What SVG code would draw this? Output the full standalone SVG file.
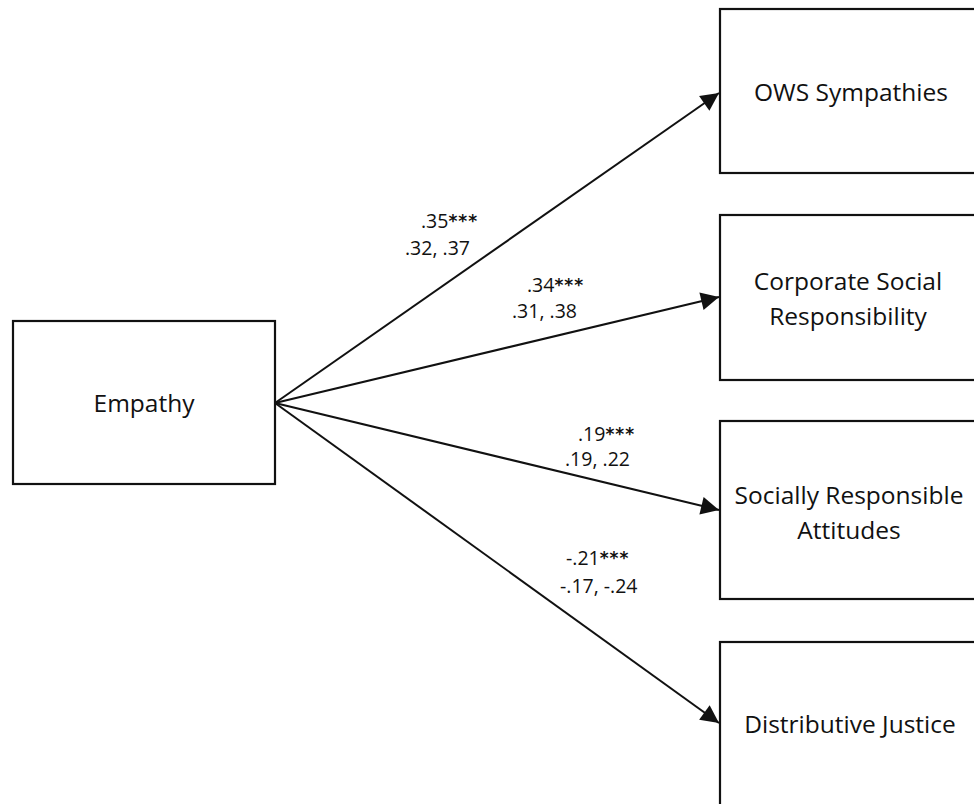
<svg xmlns="http://www.w3.org/2000/svg" width="974" height="804" viewBox="0 0 974 804">
<style>
.box{fill:#fff;stroke:#111;stroke-width:2.2}
.t{font-family:"Open Sans","Noto Sans",sans-serif;font-size:24.5px;fill:#111;text-anchor:middle}
.n{font-family:"Open Sans","Noto Sans",sans-serif;font-size:19.5px;fill:#111}
.s{font-family:"DejaVu Sans",sans-serif;font-size:17px;font-weight:bold;fill:#111;letter-spacing:1px}
.c{stroke:#111;stroke-width:2;fill:none;marker-end:url(#ah)}
</style>
<defs>
<marker id="ah" viewBox="0 0 10 10" refX="10" refY="5" markerWidth="9" markerHeight="9" markerUnits="userSpaceOnUse" orient="auto" overflow="visible">
<path d="M0,0 L10,5 L0,10 z" fill="#111" transform="scale(2) translate(-5,-2.5)"/>
</marker>
</defs>
<rect width="974" height="804" fill="#fff"/>
<g id="connectors">
<line class="c" x1="275" y1="403" x2="719" y2="93"/>
<line class="c" x1="275" y1="403" x2="719" y2="297"/>
<line class="c" x1="275" y1="403" x2="719" y2="510"/>
<line class="c" x1="275" y1="403" x2="719" y2="723"/>
</g>
<g id="labels">
<text class="n" x="421" y="228">.35<tspan class="s" dy="-1">***</tspan></text>
<text class="n" x="405" y="255">.32, .37</text>
<text class="n" x="527" y="292">.34<tspan class="s" dy="-1">***</tspan></text>
<text class="n" x="512" y="318">.31, .38</text>
<text class="n" x="578" y="441">.19<tspan class="s" dy="-1">***</tspan></text>
<text class="n" x="565" y="466">.19, .22</text>
<text class="n" x="566" y="565">-.21<tspan class="s" dy="-1">***</tspan></text>
<text class="n" x="560" y="593">-.17, -.24</text>
</g>
<g id="empathy">
<rect class="box" x="13" y="321" width="262" height="163"/>
<text class="t" x="144" y="412">Empathy</text>
</g>
<g id="ows">
<rect class="box" x="720" y="9" width="270" height="164"/>
<text class="t" x="851" y="101">OWS Sympathies</text>
</g>
<g id="csr">
<rect class="box" x="720" y="215" width="270" height="165"/>
<text class="t" x="848" y="290">Corporate Social</text>
<text class="t" x="848" y="325">Responsibility</text>
</g>
<g id="sra">
<rect class="box" x="720" y="421" width="270" height="178"/>
<text class="t" x="849" y="504">Socially Responsible</text>
<text class="t" x="849" y="539">Attitudes</text>
</g>
<g id="dj">
<rect class="box" x="720" y="642" width="270" height="180"/>
<text class="t" x="850" y="733">Distributive Justice</text>
</g>
</svg>
